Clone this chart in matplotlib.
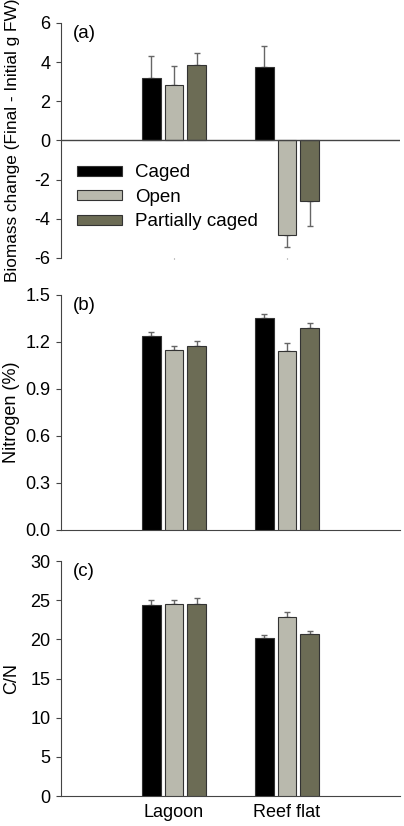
import matplotlib.pyplot as plt
import numpy as np

plt.rcParams['font.family'] = ['Liberation Sans', 'DejaVu Sans']
plt.rcParams['axes.unicode_minus'] = False

sites = ['Lagoon', 'Reef flat']
treatments = ['Caged', 'Open', 'Partially caged']
colors = ['#000000', '#b9b9ad', '#6c6c55']

# rows: treatment, cols: site
biomass = [[3.19, 3.75], [2.83, -4.81], [3.86, -3.11]]
biomass_se = [[1.10, 1.06], [0.96, 0.63], [0.60, 1.28]]
nitrogen = [[1.237, 1.355], [1.148, 1.140], [1.176, 1.291]]
nitrogen_se = [[0.028, 0.026], [0.026, 0.055], [0.030, 0.028]]
cn = [[24.34, 20.22], [24.47, 22.85], [24.47, 20.73]]
cn_se = [[0.64, 0.34], [0.50, 0.64], [0.77, 0.38]]

fig = plt.figure(figsize=(4.04, 8.26), dpi=100)
left, width = 0.151, 0.839
axa = fig.add_axes([left, 0.6877, width, 0.2845])
axb = fig.add_axes([left, 0.3584, width, 0.2845])
axc = fig.add_axes([left, 0.0363, width, 0.2845])

x = np.array([1.0, 2.0])
offs = [-0.2, 0.0, 0.2]
bw = 0.165
spine_c = '#444444'
fs = 13


def draw(ax, vals, errs):
    for i in range(3):
        v = np.array(vals[i])
        e = np.array(errs[i])
        ax.bar(x + offs[i], v, bw, color=colors[i], edgecolor='#333333',
               linewidth=0.8, label=treatments[i], zorder=3)
        lo = np.where(v < 0, e, 0)
        hi = np.where(v >= 0, e, 0)
        ax.errorbar(x + offs[i], v, yerr=[lo, hi], fmt='none',
                    ecolor='#666666', elinewidth=1, capsize=2.5,
                    capthick=1, zorder=2)
    ax.set_xlim(0, 3)
    for s in ['top', 'right']:
        ax.spines[s].set_visible(False)
    for s in ['left', 'bottom']:
        ax.spines[s].set_color(spine_c)
    ax.tick_params(axis='y', direction='out', length=3.5, color=spine_c,
                   labelsize=fs, pad=4)
    ax.set_xticks(x)
    ax.tick_params(axis='x', length=0, labelsize=fs, pad=6)


draw(axa, biomass, biomass_se)
axa.set_ylim(-6, 6)
axa.set_yticks([-6, -4, -2, 0, 2, 4, 6])
axa.spines['bottom'].set_visible(False)
axa.axhline(0, color=spine_c, linewidth=1, zorder=4)
axa.tick_params(axis='x', length=1, color='#888888')
axa.set_xticklabels([])
axa.set_ylabel('Biomass change (Final - Initial g FW)', fontsize=12.4)
axa.yaxis.set_label_coords(-0.12, 0.5)
axa.legend(loc='upper left', bbox_to_anchor=(0.025, 0.43), frameon=False,
           fontsize=13.5, handlelength=2.4, handleheight=0.45,
           handletextpad=0.7, labelspacing=0.4, borderaxespad=0)

draw(axb, nitrogen, nitrogen_se)
axb.set_ylim(0, 1.5)
axb.set_yticks([0.0, 0.3, 0.6, 0.9, 1.2, 1.5])
axb.set_yticklabels(['0.0', '0.3', '0.6', '0.9', '1.2', '1.5'])
axb.set_xticklabels([])
axb.set_ylabel('Nitrogen (%)', fontsize=fs)
axb.yaxis.set_label_coords(-0.12, 0.5)

draw(axc, cn, cn_se)
axc.set_ylim(0, 30)
axc.set_yticks([0, 5, 10, 15, 20, 25, 30])
axc.set_xticklabels(sites)
axc.set_ylabel('C/N', fontsize=fs)
axc.yaxis.set_label_coords(-0.12, 0.5)

for ax, lab in zip([axa, axb, axc], ['(a)', '(b)', '(c)']):
    ax.text(0.035, 0.99, lab, transform=ax.transAxes, ha='left', va='top',
            fontsize=13.5)

fig.savefig('out.png', dpi=100)
